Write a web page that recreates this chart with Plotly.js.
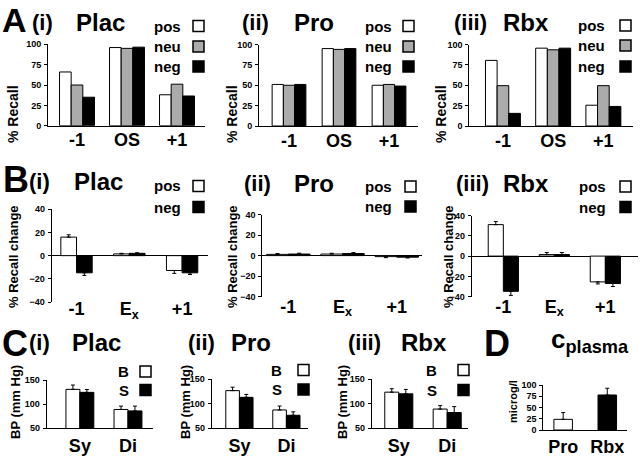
<!DOCTYPE html>
<html><head><meta charset="utf-8">
<script src="https://cdn.plot.ly/plotly-3.0.1.min.js"></script>
<style>body{margin:0;background:#fff}#g{width:640px;height:458px}</style>
</head><body><div id="g"></div>
<script>
// ---- data ----
const recallCats = ['-1', 'OS', '+1'];
const changeCats = ['-1', 'E<sub>x</sub>', '+1'];
const bpCats = ['Sy', 'Di'];
const plasmaCats = ['Pro', 'Rbx'];

const A_plac_pos = [66, 96, 38];
const A_plac_neu = [50, 95, 51];
const A_plac_neg = [35, 96.5, 36.5];
const A_pro_pos = [51, 95, 50];
const A_pro_neu = [50, 94, 51];
const A_pro_neg = [51, 95, 49];
const A_rbx_pos = [80.5, 95.5, 25.5];
const A_rbx_neu = [49.5, 93.5, 49.5];
const A_rbx_neg = [15.5, 95.5, 24];

const B_plac_pos = [16, 1.5, -12.8];
const B_plac_pos_err = [2, 0.5, 2.5];
const B_plac_neg = [-14.8, 2, -14.8];
const B_plac_neg_err = [2.3, 0.5, 1.5];
const B_pro_pos = [1.2, 1.5, -1];
const B_pro_pos_err = [0.8, 0.8, 1];
const B_pro_neg = [1.5, 2, -1.5];
const B_pro_neg_err = [0.8, 1, 0.8];
const B_rbx_pos = [31, 1.5, -25.4];
const B_rbx_pos_err = [3, 2, 2];
const B_rbx_neg = [-34.7, 1.5, -27];
const B_rbx_neg_err = [4, 2, 3];

const C_plac_B = [130.6, 89];
const C_plac_B_err = [9, 7];
const C_plac_S = [124.4, 86];
const C_plac_S_err = [6, 10];
const C_pro_B = [126.4, 87.2];
const C_pro_B_err = [7, 8];
const C_pro_S = [112.8, 76.4];
const C_pro_S_err = [6, 7];
const C_rbx_B = [123.3, 89];
const C_rbx_B_err = [7, 7];
const C_rbx_S = [119.9, 82];
const C_rbx_S_err = [9, 12];

const D_plasma = [23.7, 77.8];
const D_plasma_err = [15, 15];

const WHITE = '#ffffff', GRAY = '#ababab', BLACK = '#000000';
const FONT = 'Liberation Sans, Arial, sans-serif';

// ---- helpers ----
const W = 640, H = 458;
const px = v => v / W;
const py = v => 1 - v / H;

function bar(x, y, color, ax, err) {
  const t = {
    type: 'bar', x: x, y: y, xaxis: 'x' + ax, yaxis: 'y' + ax,
    marker: {color: color, line: {color: '#000', width: 1}},
    hoverinfo: 'none', showlegend: false
  };
  if (err) {
    t.error_y = {
      type: 'data', symmetric: false,
      array: y.map((v, i) => v >= 0 ? err[i] : 0),
      arrayminus: y.map((v, i) => v < 0 ? err[i] : 0),
      color: '#000', thickness: 1, width: 2
    };
  }
  return t;
}

const data = [
  bar(recallCats, A_plac_pos, WHITE, ''), bar(recallCats, A_plac_neu, GRAY, ''), bar(recallCats, A_plac_neg, BLACK, ''),
  bar(recallCats, A_pro_pos, WHITE, '2'), bar(recallCats, A_pro_neu, GRAY, '2'), bar(recallCats, A_pro_neg, BLACK, '2'),
  bar(recallCats, A_rbx_pos, WHITE, '3'), bar(recallCats, A_rbx_neu, GRAY, '3'), bar(recallCats, A_rbx_neg, BLACK, '3'),
  bar(changeCats, B_plac_pos, WHITE, '4', B_plac_pos_err), bar(changeCats, B_plac_neg, BLACK, '4', B_plac_neg_err),
  bar(changeCats, B_pro_pos, WHITE, '5', B_pro_pos_err), bar(changeCats, B_pro_neg, BLACK, '5', B_pro_neg_err),
  bar(changeCats, B_rbx_pos, WHITE, '6', B_rbx_pos_err), bar(changeCats, B_rbx_neg, BLACK, '6', B_rbx_neg_err),
  bar(bpCats, C_plac_B, WHITE, '7', C_plac_B_err), bar(bpCats, C_plac_S, BLACK, '7', C_plac_S_err),
  bar(bpCats, C_pro_B, WHITE, '8', C_pro_B_err), bar(bpCats, C_pro_S, BLACK, '8', C_pro_S_err),
  bar(bpCats, C_rbx_B, WHITE, '9', C_rbx_B_err), bar(bpCats, C_rbx_S, BLACK, '9', C_rbx_S_err),
];
// D: one trace, two colours
data.push(bar(plasmaCats, D_plasma, [WHITE, BLACK], '10', D_plasma_err));

const layout = {
  width: W, height: H, margin: {l: 0, r: 0, t: 0, b: 0},
  paper_bgcolor: '#fff', plot_bgcolor: 'rgba(0,0,0,0)',
  showlegend: false, barmode: 'group',
  font: {family: FONT, color: '#000'},
  annotations: [], shapes: []
};

function setAxes(id, xpx, ypx, xr, yr, ytick, labStand, zero) {
  const xk = 'xaxis' + id, yk = 'yaxis' + id;
  layout[xk] = {
    domain: [px(xpx[0]), px(xpx[1])], anchor: 'y' + id, type: 'category',
    range: xr, showgrid: false, zeroline: false,
    showline: !zero, linecolor: '#000', linewidth: 1,
    ticks: '', ticklabelstandoff: labStand,
    tickfont: {family: FONT, size: 18, weight: 'bold', color: '#000'},
    fixedrange: true
  };
  layout[yk] = {
    domain: [py(ypx[1]), py(ypx[0])], anchor: 'x' + id,
    range: yr, tickvals: ytick, showgrid: false,
    zeroline: !!zero, zerolinecolor: '#000', zerolinewidth: 1,
    showline: true, linecolor: '#000', linewidth: 1,
    ticks: 'outside', ticklen: 3, tickwidth: 1, tickcolor: '#000',
    tickfont: {family: FONT, size: 9, weight: 'bold', color: '#000'},
    ticklabelstandoff: 1, fixedrange: true
  };
}
setAxes('', [48, 205], [44.3, 125.7], [-0.58, 2.56], [0, 100], [0, 25, 50, 75, 100], -2);
setAxes('2', [259, 418], [44.5, 126], [-0.6, 2.58], [0, 100], [0, 25, 50, 75, 100], -2);
setAxes('3', [469.3, 633], [44.5, 126], [-0.67, 2.59], [0, 100], [0, 25, 50, 75, 100], -2);
setAxes('4', [51.7, 208], [209.3, 302], [-0.47, 2.49], [-40, 40], [-40, -20, 0, 20, 40], -6, true);
setAxes('5', [262.3, 421.7], [214.5, 296.7], [-0.48, 2.46], [-40, 40], [-40, -20, 0, 20, 40], -3, true);
setAxes('6', [471.7, 638], [215.5, 296.7], [-0.62, 2.64], [-40, 40], [-40, -20, 0, 20, 40], -3, true);
setAxes('7', [46.7, 153], [380, 428.3], [-0.69, 1.52], [50, 150], [50, 100, 150], 1);
setAxes('8', [211.7, 308], [379, 428.3], [-0.59, 1.46], [50, 150], [50, 100, 150], 1);
setAxes('9', [371.7, 468], [379, 428.3], [-0.56, 1.43], [50, 150], [50, 100, 150], 1);
setAxes('10', [543.3, 626.7], [385, 430], [-0.45, 1.44], [0, 100], [0, 25, 50, 75, 100], 0);

// bar widths per panel (category units), offsets for grouped bars
const panelBar = {'': 0.233, '2': 0.225, '3': 0.232, '4': 0.297, '5': 0.40, '6': 0.296, '7': 0.29, '8': 0.29, '9': 0.29};
const groupCount = {'': 3, '2': 3, '3': 3, '4': 2, '5': 2, '6': 2, '7': 2, '8': 2, '9': 2};
const seen = {};
data.forEach(t => {
  const ax = t.xaxis.slice(1);
  if (ax === '10') { t.width = 0.42; return; }
  const n = groupCount[ax], w = panelBar[ax];
  const k = seen[ax] || 0; seen[ax] = k + 1;
  t.width = w;
  t.offset = -n * w / 2 + k * w;
});

function ann(text, x, y, size, opts) {
  opts = opts || {};
  layout.annotations.push(Object.assign({
    text: text, x: px(x), y: py(y), xref: 'paper', yref: 'paper',
    showarrow: false, xanchor: 'left', yanchor: 'middle',
    font: {family: FONT, size: size, weight: 'bold', color: '#000'}
  }, opts));
}
function sq(x, y, fill) {
  layout.shapes.push({
    type: 'rect', xref: 'paper', yref: 'paper',
    x0: px(x), x1: px(x + 11), y0: py(y + 5.5), y1: py(y - 5.5),
    fillcolor: fill, line: {color: '#000', width: 1.5}
  });
}
function legend(labels, colors, xText, xSq, ys) {
  labels.forEach((l, i) => {
    ann(l, xText, ys[i], 15, {xanchor: 'right'});
    sq(xSq, ys[i], colors[i]);
  });
}
function ylab(text, x, y, size) {
  ann(text, x, y, size, {xanchor: 'center', textangle: -90});
}

// Row A
ann('A', 1, 20, 34, {borderpad: 0});
ann('(i)', 30, 22, 22); ann('Plac', 74, 22, 24);
ann('(ii)', 240, 22, 22); ann('Pro', 292, 22, 24);
ann('(iii)', 452, 22, 22); ann('Rbx', 501, 22, 24);
legend(['pos', 'neu', 'neg'], [WHITE, GRAY, BLACK], 183, 193, [26, 46.5, 66.5]);
legend(['pos', 'neu', 'neg'], [WHITE, GRAY, BLACK], 394, 403, [26, 46.5, 66.5]);
legend(['pos', 'neu', 'neg'], [WHITE, GRAY, BLACK], 607, 620, [25.5, 45.5, 66.5]);
ylab('% Recall', 13, 114, 14);
ylab('% Recall', 232, 114, 14);
ylab('% Recall', 441, 114, 14);

// Row B
ann('B', 1, 179, 36);
ann('(i)', 27, 182, 22); ann('Plac', 72, 182, 24);
ann('(ii)', 242, 183, 22); ann('Pro', 292, 183, 24);
ann('(iii)', 454, 183, 22); ann('Rbx', 501, 183, 24);
legend(['pos', 'neg'], [WHITE, BLACK], 183, 193, [186, 207]);
legend(['pos', 'neg'], [WHITE, BLACK], 394, 405, [186.5, 206.5]);
legend(['pos', 'neg'], [WHITE, BLACK], 608, 620, [186.5, 207]);
ylab('% Recall change', 13, 257, 13);
ylab('% Recall change', 232, 257, 13);
ylab('% Recall change', 448, 257, 13);

// Row C
ann('C', 0, 343, 36);
ann('(i)', 27, 342, 22); ann('Plac', 70, 342, 24);
ann('(ii)', 186, 342, 22); ann('Pro', 229, 342, 24);
ann('(iii)', 346, 342, 22); ann('Rbx', 399, 342, 24);
legend(['B', 'S'], [WHITE, BLACK], 131, 140, [371.5, 390]);
legend(['B', 'S'], [WHITE, BLACK], 284, 298, [370, 389.5]);
legend(['B', 'S'], [WHITE, BLACK], 439, 458, [370, 390]);
ylab('BP (mm Hg)', 15, 402, 13);
ylab('BP (mm Hg)', 185, 402, 13);
ylab('BP (mm Hg)', 342, 402, 13);

// D
ann('D', 482, 343, 36);
ann('c<sub>plasma</sub>', 590, 340, 26, {xanchor: 'center'});
ylab('microg/l', 513, 402, 11);

Plotly.newPlot('g', data, layout, {staticPlot: true});
</script></body></html>
